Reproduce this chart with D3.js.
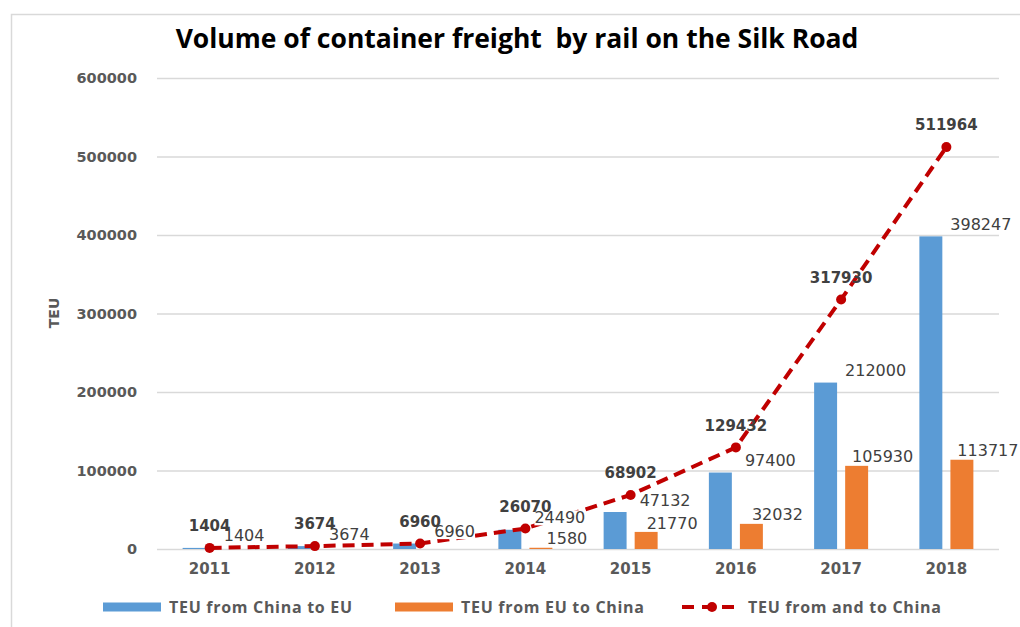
<!DOCTYPE html>
<html>
<head>
<meta charset="utf-8">
<script src="https://cdn.jsdelivr.net/npm/d3@7"></script>
<style>
  body { margin: 0; background: #fff; }
</style>
</head>
<body>
<svg id="chart"></svg>
<script>
// data
const years = ['2011', '2012', '2013', '2014', '2015', '2016', '2017', '2018'];
const chinaToEU = [1404, 3674, 6960, 24490, 47132, 97400, 212000, 398247];
const euToChina = [null, null, null, 1580, 21770, 32032, 105930, 113717];
const total = [1404, 3674, 6960, 26070, 68902, 129432, 317930, 511964];
const yTicks = [0, 100000, 200000, 300000, 400000, 500000, 600000];
const seriesNames = ['TEU from China to EU', 'TEU from EU to China', 'TEU from and to China'];

const width = 1020, height = 627;
const blue = '#5b9bd5', orange = '#ed7d31', red = '#c00000';
const grid = '#d9d9d9', axisText = '#595959', valText = '#404040';

const svg = d3.select('#chart')
    .attr('width', width).attr('height', height)
    .attr('font-family', '"DejaVu Sans", Verdana, sans-serif');

// outer frame (only top and left are inside the picture)
svg.append('path')
    .attr('d', 'M11.5,' + height + 'V14.5H' + width)
    .attr('fill', 'none')
    .attr('stroke', grid)
    .attr('stroke-width', 1.5);

const plot = {left: 157, right: 999, top: 78, bottom: 549};

const x = d3.scaleBand().domain(years).range([plot.left, plot.right]);
const xSub = d3.scaleBand().domain(['c2e', 'e2c'])
    .range([x.bandwidth() / 2 - 27, x.bandwidth() / 2 + 27])
    .paddingInner(0.26);
const y = d3.scaleLinear().domain([0, 600000]).range([plot.bottom, plot.top]);

// title, stretched to the width it has in the picture
const title = svg.append('text')
    .attr('x', 517).attr('y', 48)
    .attr('text-anchor', 'middle')
    .attr('font-family', '"Open Sans", sans-serif')
    .attr('font-weight', 'bold')
    .attr('font-size', 21)
    .attr('fill', '#000')
    .attr('xml:space', 'preserve')
    .text('Volume of container freight  by rail on the Silk Road');
const tw = title.node().getComputedTextLength();
title.attr('font-size', 21 * 683 / tw);

// gridlines + y labels
const yAxis = d3.axisLeft(y).tickValues(yTicks).tickSize(-(plot.right - plot.left)).tickPadding(20).tickFormat(d3.format('d'));
const gy = svg.append('g')
    .attr('transform', `translate(${plot.left},0)`)
    .call(yAxis);
gy.select('.domain').remove();
gy.selectAll('.tick line').attr('stroke', grid).attr('stroke-width', 1.5);
gy.selectAll('.tick text')
    .attr('fill', axisText)
    .attr('font-size', 14.5)
    .attr('font-weight', 'bold')
    .attr('font-family', '"DejaVu Sans", sans-serif');

// x labels
const xAxis = d3.axisBottom(x).tickSize(0).tickPadding(14);
const gx = svg.append('g')
    .attr('transform', `translate(0,${plot.bottom})`)
    .call(xAxis);
gx.select('.domain').remove();
gx.selectAll('.tick text')
    .attr('fill', axisText)
    .attr('font-size', 15)
    .attr('font-weight', 'bold')
    .attr('font-family', '"DejaVu Sans", sans-serif');

// y title
svg.append('text')
    .attr('transform', 'translate(59,313) rotate(-90)')
    .attr('text-anchor', 'middle')
    .attr('font-size', 14)
    .attr('font-weight', 'bold')
    .attr('fill', axisText)
    .text('TEU');

// bars
const barRows = [];
years.forEach((yr, i) => {
    if (chinaToEU[i] != null) barRows.push({yr, key: 'c2e', v: chinaToEU[i]});
    if (euToChina[i] != null) barRows.push({yr, key: 'e2c', v: euToChina[i]});
});

svg.append('g')
    .selectAll('rect')
    .data(barRows)
    .join('rect')
    .attr('x', d => x(d.yr) + xSub(d.key))
    .attr('y', d => y(d.v))
    .attr('width', xSub.bandwidth())
    .attr('height', d => y(0) - y(d.v))
    .attr('fill', d => d.key === 'c2e' ? blue : orange);

// total line
const pts = years.map((yr, i) => ({yr, v: total[i]}));
const line = d3.line()
    .x(d => x(d.yr) + x.bandwidth() / 2)
    .y(d => y(d.v));

svg.append('path')
    .datum(pts)
    .attr('d', line)
    .attr('fill', 'none')
    .attr('stroke', red)
    .attr('stroke-width', 4)
    .attr('stroke-dasharray', '12,7');

svg.append('g')
    .selectAll('circle')
    .data(pts)
    .join('circle')
    .attr('cx', d => x(d.yr) + x.bandwidth() / 2)
    .attr('cy', d => y(d.v))
    .attr('r', 5)
    .attr('fill', red);

// bar value labels (white box behind, like the excel labels)
const lbl = svg.append('g');
barRows.forEach(d => {
    const cx = x(d.yr) + xSub(d.key) + xSub.bandwidth() / 2 + (d.key === 'c2e' ? 50 : 26);
    const cy = y(d.v) - (d.key === 'c2e' ? 12 : 9);
    const t = lbl.append('text')
        .attr('x', cx).attr('y', cy)
        .attr('dy', '0.35em')
        .attr('text-anchor', 'middle')
        .attr('font-size', 16)
        .attr('fill', valText)
        .text(d.v);
    const bb = t.node().getBBox();
    lbl.insert('rect', () => t.node())
        .attr('x', bb.x).attr('y', bb.y + 2)
        .attr('width', bb.width).attr('height', bb.height - 4)
        .attr('fill', '#fff');
});

// total labels
svg.append('g')
    .selectAll('text')
    .data(pts)
    .join('text')
    .attr('x', d => x(d.yr) + x.bandwidth() / 2)
    .attr('y', d => y(d.v) - 22)
    .attr('dy', '0.35em')
    .attr('text-anchor', 'middle')
    .attr('font-size', 15)
    .attr('font-weight', 'bold')
    .attr('fill', valText)
    .text(d => d.v);

// legend
const legendX = [103, 395, 682];
const leg = svg.append('g').attr('transform', 'translate(0,607)');
seriesNames.forEach((name, i) => {
    const g = leg.append('g').attr('transform', `translate(${legendX[i]},0)`);
    if (i < 2) {
        g.append('rect')
            .attr('x', 0).attr('y', -4.5)
            .attr('width', 58).attr('height', 9)
            .attr('fill', i === 0 ? blue : orange);
    } else {
        g.append('line')
            .attr('x1', 0).attr('x2', 60)
            .attr('stroke', red).attr('stroke-width', 4)
            .attr('stroke-dasharray', '12,8');
        g.append('circle').attr('cx', 30).attr('r', 5).attr('fill', red);
    }
    g.append('text')
        .attr('x', 66).attr('dy', '0.35em')
        .attr('font-family', '"Open Sans", sans-serif')
        .attr('font-size', 16)
        .attr('letter-spacing', 0.7)
        .attr('font-weight', 'bold')
        .attr('fill', axisText)
        .text(name);
});
</script>
</body>
</html>
